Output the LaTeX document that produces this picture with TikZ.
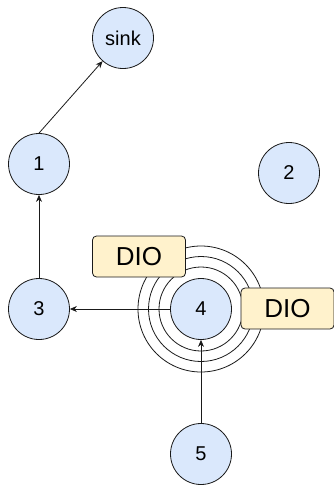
\documentclass[tikz,border=0pt]{standalone}
\usepackage{fontspec}
\setmainfont{Liberation Sans}
\usetikzlibrary{arrows.meta}
\definecolor{nodefill}{HTML}{DAE8FC}
\definecolor{tagfill}{HTML}{FFF2CC}
\definecolor{edge}{HTML}{1A1A1A}
\tikzset{
  mote/.style={circle, draw=edge, fill=nodefill, line width=0.8pt,
    minimum size=61pt, inner sep=0pt, font=\fontsize{20}{24}\selectfont},
  tag/.style={rectangle, rounded corners=4pt, draw=edge, fill=tagfill,
    line width=0.8pt, minimum width=93pt, minimum height=41pt, inner sep=0pt,
    font=\fontsize{26}{30}\selectfont},
  ring/.style={draw=edge, line width=0.8pt},
  link/.style={draw=edge, line width=0.8pt, -{Stealth[length=7pt,width=6pt]}}
}
\begin{document}
\begin{tikzpicture}[x=1pt,y=1pt]
  \useasboundingbox (0,0) rectangle (333,-485);
  % radio range rings around node 4
  \foreach \r in {42,52.5,63} \draw[ring] (201,-309) circle (\r);
  % sensor nodes
  \node[mote] (sink) at (123,-38) {sink};
  \node[mote] (n1) at (39,-164) {1};
  \node[mote] (n2) at (289,-173) {2};
  \node[mote] (n3) at (39,-309) {3};
  \node[mote] (n4) at (201,-309) {4};
  \node[mote] (n5) at (201,-454) {5};
  % DIO messages
  \node[tag] (dio1) at (139,-256.5) {DIO};
  \node[tag] (dio2) at (287.5,-308.5) {DIO};
  % routes
  \draw[link] (n1.north) -- (sink);
  \draw[link] (n3) -- (n1);
  \draw[link] (n4) -- (n3);
  \draw[link] (n5) -- (n4);
\end{tikzpicture}
\end{document}
